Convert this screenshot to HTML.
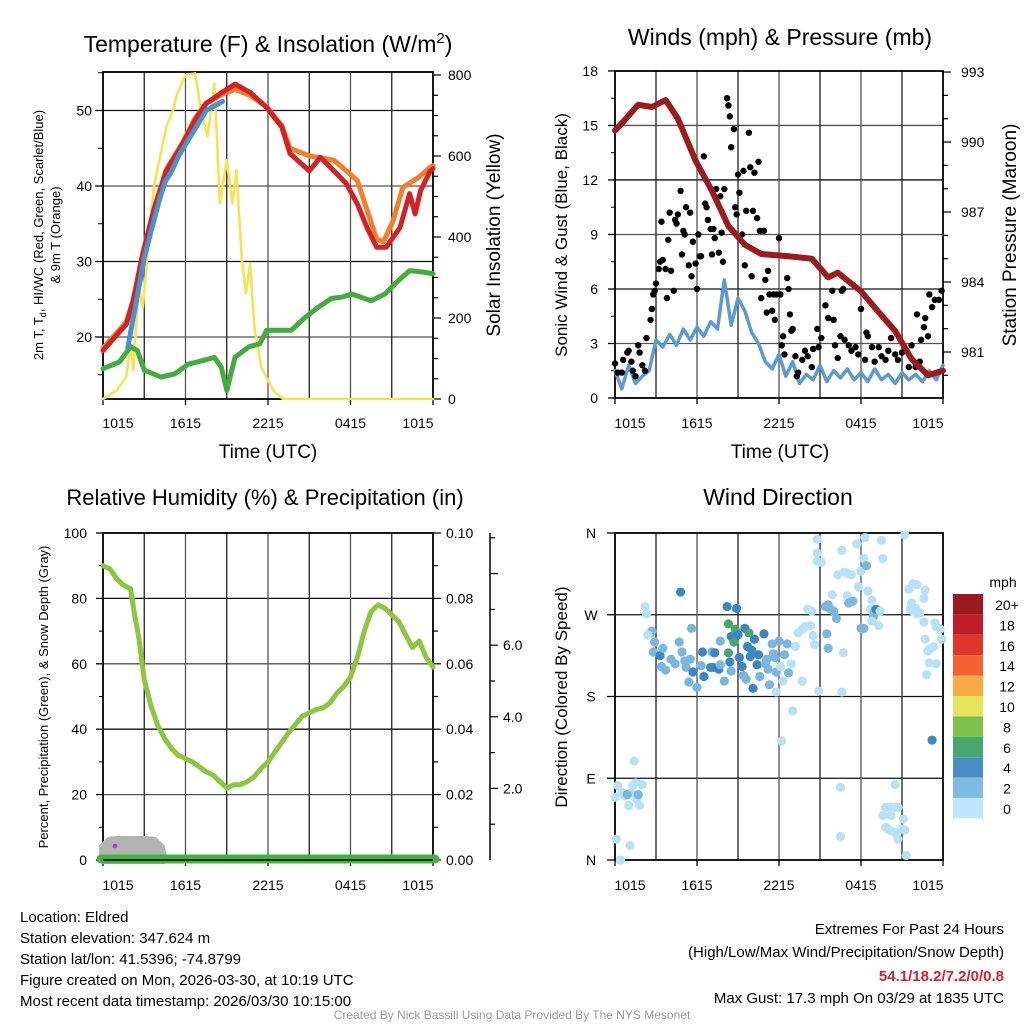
<!DOCTYPE html>
<html><head><meta charset="utf-8"><style>
html,body{margin:0;padding:0;background:#fff;}
svg{display:block;font-family:"Liberation Sans",Arial,sans-serif;}
</style></head><body>
<svg id="chart" width="1024" height="1024" viewBox="0 0 1024 1024" xmlns="http://www.w3.org/2000/svg">
<rect width="1024" height="1024" fill="#fff"/>
<g id="g1"></g>
<g id="g2"></g>
<g id="g3"></g>
<g id="g4"></g>
<g font-size="15" fill="#000">
<text x="20" y="922">Location: Eldred</text>
<text x="20" y="943">Station elevation: 347.624 m</text>
<text x="20" y="964">Station lat/lon: 41.5396; -74.8799</text>
<text x="20" y="985">Figure created on Mon, 2026-03-30, at 10:19 UTC</text>
<text x="20" y="1006">Most recent data timestamp: 2026/03/30 10:15:00</text>
</g>
<g font-size="15" text-anchor="end">
<text x="1004" y="934">Extremes For Past 24 Hours</text>
<text x="1004" y="957">(High/Low/Max Wind/Precipitation/Snow Depth)</text>
<text x="1004" y="981" fill="#d0232a" font-weight="bold">54.1/18.2/7.2/0/0.8</text>
<text x="1004" y="1003">Max Gust: 17.3 mph On 03/29 at 1835 UTC</text>
</g>
<text x="512" y="1019" font-size="12" fill="#999" text-anchor="middle">Created By Nick Bassill Using Data Provided By The NYS Mesonet</text>
</svg>
<script>
// ---------- DATA ----------
const timeLabels = ["1015","1615","2215","0415","1015"];
const tempHours = [0,1.7,2.2,2.9,3.7,4.6,5.8,6.7,7.5,8.5,9.6,10.7,11.9,13,13.6,15,15.8,16.8,17.7,18.5,19.2,19.9,20.6,21.6,22.3,22.7,23.1,23.8,24];
const tempRed = [18.2,21.7,24.8,31,36.8,42,45.6,48.7,50.9,52.2,53.5,52.4,50.4,47.8,44.3,42,43.8,42,40.3,37.6,34.5,31.9,31.9,34.5,39,36.3,39.4,42,42.3];
const orangeHours = [0,1.7,2.2,2.9,3.7,4.6,5.8,6.7,7.5,8.5,9.6,10.7,11.9,13,13.6,15,16.8,17.7,18.5,19.9,20.4,21.1,21.8,23,23.8,24];
const tempOrange = [18.5,22,25,31.2,37,42.2,45.8,49,51,52,52.8,52,50.5,48,45,44,43.4,42,40.7,33,32.6,35.4,39.8,41.2,42.5,42.7];
const blueHours = [1.8,3.0,3.5,4.0,4.5,5.0,5.5,6.0,6.5,7.0,7.5,8.0,8.7];
const tempBlue = [18.6,30.5,34,37.5,40.5,42,44,45.5,47,48.5,50,50.5,51.2];
const dewHours = [0,1.2,2.0,2.5,3,4.2,5.2,6.2,7.3,8.1,8.6,9.0,9.6,10.6,11.4,11.9,12.7,13.7,14.7,15.7,16.6,17.4,18.1,19.5,20.5,21.5,22.3,23.3,24];
const dewPt = [15.8,16.7,18.7,18.2,15.6,14.7,15.1,16.4,16.9,17.3,16,12.9,17.3,18.7,19.1,20.9,20.9,20.9,22.6,24,25.1,25.3,25.7,24.8,25.7,27.5,28.8,28.6,28.4];
const solarHours = [0,1.0,1.7,2.0,2.2,2.6,2.9,3.2,3.7,4.6,5.1,5.4,6.0,6.7,7.1,7.6,8.1,8.5,9.0,9.4,9.7,10.1,10.4,10.7,11.0,11.5,12.4,13.1,24];
const solarVals = [0,22,55,137,72,277,228,343,524,672,714,755,800,804,722,648,779,483,590,483,565,343,261,335,179,80,20,0,0];
const windHours = [];
const sonicWind = [1.5,0.5,1.8,0.8,1.2,1.5,3.2,2.8,3.5,2.9,3.8,3.2,3.9,3.4,4.2,3.8,6.5,4.0,5.5,4.8,3.6,3.0,2.0,1.6,2.4,1.2,2.0,0.8,1.3,1.0,1.8,0.9,1.5,1.1,1.6,1.0,1.4,0.9,1.6,1.0,1.3,0.8,1.4,1.0,1.3,0.9,1.5,1.0,1.8];
for (let i = 0; i < sonicWind.length; i++) windHours.push(i * 0.5);
const gustHours = [0,0.2,0.5,0.6,0.9,1.0,1.2,1.3,1.5,1.7,1.8,2.0,2.2,2.3,2.6,2.7,2.8,2.9,3.0,3.2,3.3,3.4,3.5,3.7,3.8,3.9,4.0,4.1,4.3,4.4,4.5,4.6,4.8,4.9,5.0,5.1,5.2,5.4,5.5,5.6,5.7,5.9,6.0,6.1,6.2,6.3,6.5,6.6,6.7,6.8,7.0,7.1,7.2,7.3,7.4,7.6,7.7,7.8,7.9,8.0,8.2,8.3,8.4,8.5,8.7,8.8,8.9,9.0,9.1,9.3,9.4,9.5,9.6,9.8,9.9,10.0,10.1,10.2,10.4,10.5,10.6,10.7,10.9,11.0,11.1,11.2,11.3,11.5,11.6,11.7,11.8,12.0,12.1,12.2,12.3,12.4,12.6,12.7,12.8,12.9,13.0,13.2,13.3,13.4,13.7,13.9,14.1,14.4,14.5,14.8,14.9,15.1,15.4,15.6,15.9,16.0,16.1,16.3,16.5,16.6,16.7,16.8,17.1,17.3,17.6,17.8,18.0,18.3,18.4,18.5,18.8,19.0,19.3,19.5,19.8,20.0,20.2,20.5,20.7,21.0,21.2,21.5,21.7,22.0,22.1,22.3,22.4,22.6,22.7,22.9,23.0,23.2,23.4,23.7,23.9];
const gustVals = [1.9,1.4,1.4,2.1,2.5,2.6,2.0,1.5,1.2,2.9,2.5,1.8,1.5,3.3,4.3,4.9,5.7,5.9,6.3,7.1,7.5,9.7,7.6,7.1,5.5,8.7,10.2,7.0,5.9,9.8,9.6,10.1,11.4,7.9,9.2,9.0,10.5,7.3,10.2,6.7,8.6,7.4,6.0,9.0,7.8,7.8,13.3,10.7,10.5,9.8,9.3,7.9,9.3,8.8,11.5,8.0,11.1,9.1,7.5,11.5,16.5,16.1,15.5,13.8,14.8,10.5,10.1,12.3,11.3,9.0,12.5,7.3,10.3,14.6,12.7,6.7,10.3,12.4,9.9,13.0,9.2,5.5,9.2,6.5,4.7,7.0,5.7,4.8,5.7,4.3,5.7,8.8,5.7,2.9,3.4,2.4,6.6,6.0,4.6,3.7,3.8,2.3,1.2,1.4,2.1,2.6,2.3,1.7,2.7,3.8,2.8,3.3,5.1,4.4,5.9,4.3,2.9,2.2,3.4,5.9,6.0,3.2,2.9,2.6,2.8,2.4,4.9,2.1,3.6,3.4,2.8,2.0,2.8,2.3,2.1,2.6,3.3,2.4,2.1,2.5,2.6,1.7,2.9,1.7,4.6,2.0,3.2,3.9,4.4,3.4,5.7,5.0,5.4,5.4,5.9];
const presHours = [0,0.5,1.7,2.7,3.7,4.6,5.9,7.1,8.3,9.5,10.7,12.7,14.4,15.6,16.3,18.0,19.3,20.5,21.7,22.9,24];
const presVals = [990.5,990.8,991.6,991.5,991.8,991.0,989.2,987.9,986.4,985.6,985.2,985.1,985.0,984.2,984.4,983.6,982.7,981.9,980.7,980.0,980.2];
const rhHours = [0,0.5,1,1.5,2,2.3,2.6,3,3.5,4,4.5,5,5.5,6,6.5,7,7.5,8,8.5,9,9.5,10,10.5,11,11.5,12,12.5,13,13.5,14,14.5,15,15.5,16,16.5,17,17.5,18,18.5,19,19.5,20,20.5,21,21.5,22,22.5,23,23.5,24];
const rhVals = [90,89,86,84,83,75,68,55,47,41,37,34,32,31,30,28.5,27,26,24,22,23,23,24,25.5,28,30,33,36,39,41.5,44,45,46,46.5,48,51,53,56,62,70,76,78,77,75,73,69,65,67,62,59];
const snowHours = [0,0.5,1,2,3,3.7,4.2,4.4];
const snowDepth = [0.4,0.6,0.62,0.62,0.62,0.6,0.4,0];
const dirHours = [0.0,0.2,0.5,0.7,1.0,1.2,1.3,1.5,1.6,1.8,2.0,0.9,1.7,1.4,0.1,0.4,1.1,2.2,2.3,2.6,2.7,2.4,2.9,2.8,3.3,3.5,3.4,3.7,4.1,4.4,4.8,4.7,4.9,5.1,5.2,5.5,5.6,5.4,5.7,6.0,6.3,6.4,6.5,7.0,7.1,7.2,7.3,7.6,7.7,7.7,8.0,8.2,8.3,8.4,8.5,8.3,8.5,8.7,8.8,8.9,9.0,9.1,9.3,9.4,9.5,9.6,9.7,9.8,9.9,10.0,10.1,10.2,10.4,10.5,10.6,10.9,11.0,11.1,11.2,11.3,11.5,11.6,11.7,11.8,12.0,12.1,12.3,12.4,12.6,12.7,12.9,13.2,13.4,13.7,13.9,14.1,14.3,14.4,14.5,14.6,13.7,11.8,13.0,12.2,14.9,14.8,14.8,14.8,15.1,15.4,15.6,15.7,15.9,16.0,16.2,15.5,15.6,16.6,16.3,16.8,17.1,17.3,17.0,17.1,17.4,17.7,17.8,18.0,18.2,18.4,18.5,18.3,18.7,18.8,18.9,19.0,19.1,19.4,19.3,18.8,18.0,18.2,16.7,16.6,19.5,19.6,16.5,16.5,19.8,20.0,20.2,20.5,20.7,19.6,20.2,21.1,19.8,20.0,20.2,20.5,20.7,21.0,21.2,20.5,21.3,21.2,21.5,21.8,22.1,22.7,22.6,21.7,21.6,21.8,22.1,22.3,22.6,22.0,23.4,23.5,23.8,22.7,22.9,23.0,23.3,23.2,23.9,23.0,23.5,22.8,23.2];
const dirDeg = [69,82,74,71,60,74,82,85,67,60,83,72,72,109,23,0,16,279,271,250,252,248,240,229,225,233,213,209,221,216,295,240,229,219,212,221,255,196,207,190,214,229,202,212,229,212,228,210,215,241,197,279,260,218,208,228,246,240,254,277,248,223,213,203,255,199,235,250,224,231,189,243,215,226,202,249,216,221,210,193,238,227,223,207,241,213,197,226,238,206,216,235,250,254,257,276,258,274,247,237,197,185,164,131,186,353,338,329,328,279,281,277,292,274,266,249,233,341,314,317,315,314,291,283,285,348,301,318,332,324,296,355,276,286,268,274,276,274,258,263,255,255,228,185,352,332,80,26,58,58,58,58,58,49,49,45,36,34,32,30,23,34,33,83,5,358,298,304,303,297,288,283,276,274,271,272,262,277,261,257,254,243,230,232,235,234,243,217,216,204,132];
const dirSpeed = [1,1,1,1,1,1,1,1,1,1,1,3,3,1,1,1,1,1,1,3,3,1,3,3,5,3,3,3,3,3,5,3,3,3,3,3,3,3,5,3,3,5,5,5,3,5,5,5,3,3,3,5,7,5,3,7,5,7,7,5,5,5,5,3,5,3,5,7,5,5,5,5,5,5,3,5,3,3,3,3,3,3,3,3,3,1,1,3,3,3,1,1,1,1,1,1,1,1,1,1,1,1,1,1,1,1,1,1,1,3,3,3,1,3,3,3,3,1,1,1,1,1,1,3,3,1,1,1,1,3,1,1,1,1,3,3,5,1,1,1,3,3,1,1,1,1,1,1,1,1,1,1,1,1,1,1,1,1,1,1,1,1,1,1,1,1,1,1,1,1,1,1,1,1,1,1,1,1,1,1,1,1,1,1,1,1,1,1,1,1,5,1,1,1,1];
const legendLabels = ["20+","18","16","14","12","10","8","6","4","2","0"];
const legendColors = ["#9b1a1e","#be1e2a","#e0352b","#f2622e","#f8a945","#e6e35c","#7ec24d","#47a76c","#4a8ec6","#80bbe6","#bfe6f8"];

// ---------- HELPERS ----------
const NS = "http://www.w3.org/2000/svg";
function mk(parent, tag, attrs, text) {
  const e = document.createElementNS(NS, tag);
  for (const k in attrs) e.setAttribute(k, attrs[k]);
  if (text !== undefined) e.textContent = text;
  parent.appendChild(e);
  return e;
}
function speedColor(s) {
  if (s < 2) return "#b7e1f6";
  if (s < 4) return "#7ab6e2";
  if (s < 6) return "#3d86c2";
  if (s < 8) return "#47a76c";
  return "#7ec24d";
}
function poly(parent, xs, ys, fx, fy, color, w, name) {
  let pts = xs.map((t, i) => fx(t).toFixed(1) + "," + fy(ys[i]).toFixed(1)).join(" ");
  const p = mk(parent, "polyline", {points: pts, fill: "none", stroke: color, "stroke-width": w, "stroke-linejoin": "round", "stroke-linecap": "round"});
  
  
  return p;
}
function frame(g, x0, x1, y0, y1, fx, tickY, name) {
  // grid
  for (let h = 3; h < 24; h += 3) {
    const gl = mk(g, "line", {x1: fx(h), x2: fx(h), y1: y0, y2: y1, stroke: h % 6 === 0 ? "#555" : "#222", "stroke-width": 1.3});
    
    
  }
  const r = mk(g, "rect", {x: x0, y: y0, width: x1 - x0, height: y1 - y0, fill: "none", stroke: "#000", "stroke-width": 1.8});
  
  
  for (let i = 0; i < timeLabels.length; i++) {
    const h = i * 6;
    let x = fx(h);
    mk(g, "line", {x1: x, x2: x, y1: y1, y2: y1 + 6, stroke: "#000", "stroke-width": 1.3});
    if (i === 0) x += 15;
    if (i === timeLabels.length - 1) x -= 15;
    const t = mk(g, "text", {x: x, y: tickY, "font-size": 14, "text-anchor": "middle"}, timeLabels[i]);
    
    
  }
}
function hgrid(g, x0, x1, y, dark) {
  const l = mk(g, "line", {x1: x0, x2: x1, y1: y, y2: y, stroke: dark ? "#111" : "#555", "stroke-width": 1.3});
  
  
}
function label(g, x, y, txt, size, anchor, name, rot) {
  const a = {x: x, y: y, "font-size": size, "text-anchor": anchor || "middle"};
  if (rot) a.transform = "rotate(-90 " + x + " " + y + ")";
  const t = mk(g, "text", a, txt);
  
  
  return t;
}

// ---------- PANEL 1 ----------
(function () {
  const g = document.getElementById("g1");
  const X0 = 103, X1 = 433, Y0 = 72, Y1 = 399;
  const fx = h => X0 + h * (X1 - X0) / 24;
  const fy = v => 337 - (v - 20) * 7.55;
  const fs = v => 399 - v * 0.405;
  [20, 30, 40, 50].forEach((v, i) => hgrid(g, X0, X1, fy(v), i % 2 === 1));
  frame(g, X0, X1, Y0, Y1, fx, 428, "temperature");
  [20, 30, 40, 50].forEach(v => {
    mk(g, "line", {x1: X0 - 8, x2: X0, y1: fy(v), y2: fy(v), stroke: "#000", "stroke-width": 1.3});
    label(g, 92, fy(v) + 5, String(v), 14, "end", "y-tick-label");
  });
  [15, 25, 35, 45, 55].forEach(v => mk(g, "line", {x1: X0 - 5, x2: X0, y1: fy(v), y2: fy(v), stroke: "#000"}));
  for (let v = 0; v <= 800; v += 50) mk(g, "line", {x1: X1, x2: X1 + (v % 200 === 0 ? 8 : 5), y1: fs(v), y2: fs(v), stroke: "#000", "stroke-width": 1.2});
  [0, 200, 400, 600, 800].forEach(v => label(g, 448, fs(v) + 5, String(v), 14, "start", "y2-tick-label"));
  poly(g, solarHours, solarVals, fx, fs, "#f9e154", 2.6, "solar-insolation-line");
  poly(g, dewHours, dewPt, fx, fy, "#43ac3d", 5, "dewpoint-line");
  poly(g, orangeHours, tempOrange, fx, fy, "#f47f2a", 5, "9m-temperature-line");
  poly(g, tempHours, tempRed, fx, fy, "#d42127", 5, "2m-temperature-line");
  poly(g, blueHours, tempBlue, fx, fy, "#4a92cc", 5, "heat-index-line");
  const t = label(g, 268, 52, "Temperature (F) & Insolation (W/m", 23, "middle", "panel-title");
  const sup = mk(t, "tspan", {dy: -9, "font-size": 15}, "2");
  const cl = mk(t, "tspan", {dy: 9}, ")");
  label(g, 268, 458, "Time (UTC)", 19, "middle", "x-axis-title");
  const yt = label(g, 43, 235, "", 13, "middle", "y-axis-title", true);
  yt.innerHTML = '2m T, T<tspan font-size="9" dy="3">d</tspan><tspan dy="-3">, HI/WC (Red, Green, Scarlet/Blue)</tspan>';
  label(g, 60, 235, "& 9m T (Orange)", 13, "middle", "y-axis-title-line2", true);
  label(g, 500, 235, "Solar Insolation (Yellow)", 19, "middle", "y2-axis-title", true);
})();

// ---------- PANEL 2 ----------
(function () {
  const g = document.getElementById("g2");
  const X0 = 615, X1 = 943, Y0 = 71, Y1 = 398;
  const fx = h => X0 + h * (X1 - X0) / 24;
  const fy = v => 398 - v * 18.17;
  const fp = v => 352 - (v - 981) * 23.33;
  [3, 6, 9, 12, 15].forEach((v, i) => hgrid(g, X0, X1, fy(v), i % 2 === 1));
  frame(g, X0, X1, Y0, Y1, fx, 428, "wind");
  [0, 3, 6, 9, 12, 15, 18].forEach(v => {
    mk(g, "line", {x1: X0 - 7, x2: X0, y1: fy(v), y2: fy(v), stroke: "#000", "stroke-width": 1.3});
    label(g, 598, fy(v) + 5, String(v), 14, "end", "y-tick-label");
  });
  for (let v = 1.5; v < 18; v += 3) mk(g, "line", {x1: X0 - 4, x2: X0, y1: fy(v), y2: fy(v), stroke: "#000"});
  for (let v = 980; v <= 993; v++) mk(g, "line", {x1: X1, x2: X1 + ((v - 981) % 3 === 0 ? 8 : 5), y1: fp(v), y2: fp(v), stroke: "#000", "stroke-width": 1.2});
  [981, 984, 987, 990, 993].forEach(v => label(g, 961, fp(v) + 5, String(v), 14, "start", "y2-tick-label"));
  poly(g, windHours, sonicWind, fx, fy, "#5b9bd5", 3.5, "sonic-wind-line");
  gustHours.forEach((h, i) => {
    const c = mk(g, "circle", {cx: fx(h), cy: fy(gustVals[i]), r: 3.2, fill: "#000"});
    
    
  });
  poly(g, presHours, presVals, fx, fp, "#9b1b1e", 6, "pressure-line");
  label(g, 780, 45, "Winds (mph) & Pressure (mb)", 23, "middle", "panel-title");
  label(g, 780, 458, "Time (UTC)", 19, "middle", "x-axis-title");
  label(g, 567, 235, "Sonic Wind & Gust (Blue, Black)", 17, "middle", "y-axis-title", true);
  label(g, 1016, 235, "Station Pressure (Maroon)", 19, "middle", "y2-axis-title", true);
})();

// ---------- PANEL 3 ----------
(function () {
  const g = document.getElementById("g3");
  const X0 = 103, X1 = 433, Y0 = 533, Y1 = 860;
  const fx = h => X0 + h * (X1 - X0) / 24;
  const fy = v => 860 - v * 3.27;
  const fsn = v => 860 - v * 35.8;
  [20, 40, 60, 80].forEach((v, i) => hgrid(g, X0, X1, fy(v), i % 2 === 1));
  frame(g, X0, X1, Y0, Y1, fx, 890, "humidity");
  [0, 20, 40, 60, 80, 100].forEach(v => {
    mk(g, "line", {x1: X0 - 7, x2: X0, y1: fy(v), y2: fy(v), stroke: "#000", "stroke-width": 1.3});
    label(g, 87, fy(v) + 5, String(v), 14, "end", "y-tick-label");
  });
  for (let v = 10; v < 100; v += 20) mk(g, "line", {x1: X0 - 4, x2: X0, y1: fy(v), y2: fy(v), stroke: "#000"});
  for (let i = 0; i <= 10; i++) {
    const y = 860 - i * 32.7;
    mk(g, "line", {x1: X1, x2: X1 + (i % 2 === 0 ? 8 : 5), y1: y, y2: y, stroke: "#000", "stroke-width": 1.2});
    if (i % 2 === 0) label(g, 446, y + 5, (i / 100).toFixed(2), 14, "start", "precip-tick-label");
  }
  mk(g, "line", {x1: 490, x2: 490, y1: 533, y2: 860, stroke: "#000", "stroke-width": 1.5});
  for (let v = 1; v <= 9; v++) mk(g, "line", {x1: 490, x2: 490 + (v % 2 === 0 ? 8 : 5), y1: fsn(v), y2: fsn(v), stroke: "#000", "stroke-width": 1.2});
  [2, 4, 6].forEach(v => label(g, 503, fsn(v) + 5, v.toFixed(1), 14, "start", "snow-tick-label"));
  // snow depth gray area
  let d = "M" + fx(snowHours[0]) + "," + fsn(0);
  snowHours.forEach((h, i) => { d += " L" + fx(h).toFixed(1) + "," + fsn(snowDepth[i] * 0.9 + 0.0).toFixed(1); });
  d += " L" + fx(snowHours[snowHours.length - 1]) + "," + fsn(0) + " Z";
  const sa = mk(g, "path", {d: d, fill: "#b3b3b3", stroke: "#b3b3b3", "stroke-width": 8, "stroke-linejoin": "round"});
  
  
  const pl = mk(g, "line", {x1: fx(0) - 2, x2: X1 + 2, y1: fy(0) - 1, y2: fy(0) - 1, stroke: "#46b040", "stroke-width": 9, "stroke-linecap": "round"});
  
  
  mk(g, "line", {x1: X0, x2: X1, y1: Y1, y2: Y1, stroke: "#000", "stroke-width": 1.5});
  const pd = mk(g, "circle", {cx: 115, cy: 846, r: 2.3, fill: "#a23be0"});
  
  
  poly(g, rhHours, rhVals, fx, fy, "#8cc63f", 5, "relative-humidity-line");
  label(g, 265, 505, "Relative Humidity (%) & Precipitation (in)", 22, "middle", "panel-title");
  label(g, 48, 697, "Percent, Precipitation (Green), & Snow Depth (Gray)", 13, "middle", "y-axis-title", true);
})();

// ---------- PANEL 4 ----------
(function () {
  const g = document.getElementById("g4");
  const X0 = 615, X1 = 943, Y0 = 533, Y1 = 860;
  const fx = h => X0 + h * (X1 - X0) / 24;
  const fy = v => 860 - v * 327 / 360;
  [90, 180, 270].forEach((v, i) => hgrid(g, X0, X1, fy(v), true));
  frame(g, X0, X1, Y0, Y1, fx, 890, "direction");
  ["N", "E", "S", "W", "N"].forEach((s, i) => {
    mk(g, "line", {x1: X0 - 8, x2: X0, y1: fy(i * 90), y2: fy(i * 90), stroke: "#000", "stroke-width": 1.3});
    label(g, 591, fy(i * 90) + 5, s, 14, "middle", "y-tick-label");
  });
  dirHours.forEach((h, i) => {
    const c = mk(g, "circle", {cx: fx(h), cy: fy(dirDeg[i]), r: 4.6, fill: speedColor(dirSpeed[i])});
    
    
  });
  label(g, 778, 505, "Wind Direction", 23, "middle", "panel-title");
  label(g, 567, 697, "Direction (Colored By Speed)", 17, "middle", "y-axis-title", true);
  label(g, 1003, 587, "mph", 14, "middle", "legend-title");
  legendLabels.forEach((s, i) => {
    const y = 594 + i * 20.4;
    const r = mk(g, "rect", {x: 953, y: y, width: 30, height: 20.4, fill: legendColors[i]});
    
    
    label(g, 1007, y + 16, s, 14, "middle", "legend-label");
  });
})();
</script>
</body></html>
